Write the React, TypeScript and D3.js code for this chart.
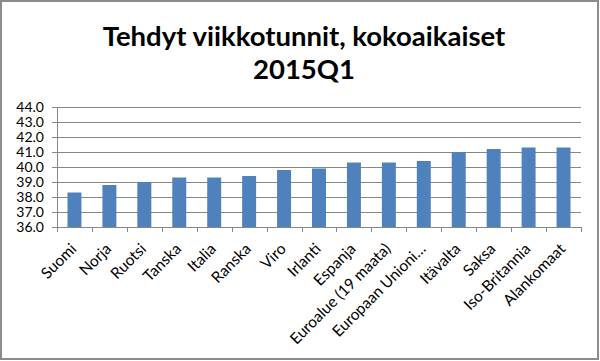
import React, { useEffect, useRef } from 'react'
import * as d3 from 'd3'

const countries = ['Suomi', 'Norja', 'Ruotsi', 'Tanska', 'Italia', 'Ranska', 'Viro', 'Irlanti', 'Espanja',
  'Euroalue (19 maata)', 'Europaan Unioni…', 'Itävalta', 'Saksa', 'Iso-Britannia', 'Alankomaat']
const hours = [38.3, 38.8, 39.0, 39.3, 39.3, 39.4, 39.8, 39.9, 40.3, 40.3, 40.4, 41.0, 41.2, 41.3, 41.3]
const yTicks = [36, 37, 38, 39, 40, 41, 42, 43, 44]
const titleLines = ['Tehdyt viikkotunnit, kokoaikaiset', '2015Q1']

const App = () => {
  const ref = useRef<SVGSVGElement>(null)

  useEffect(() => {
    const svg = d3.select(ref.current)
    svg.selectAll('*').remove()
    const font = 'Lato, "Open Sans", sans-serif'

    // frame
    svg.append('rect').attr('x', 1).attr('y', 1).attr('width', 597).attr('height', 358)
      .attr('fill', 'white').attr('stroke', '#8c8c8c').attr('stroke-width', 2)

    const margin = { top: 107, left: 57, right: 19, bottom: 134 }
    const w = 600 - margin.left - margin.right
    const h = 361 - margin.top - margin.bottom
    const g = svg.append('g').attr('transform', `translate(${margin.left},${margin.top})`)

    const x = d3.scaleBand().domain(countries).range([0, w]).paddingInner(0.6).paddingOuter(0.3)
    const xTick = d3.scaleBand().domain(countries).range([0, w])
    const y = d3.scaleLinear().domain([36, 44]).range([h, 0])

    // gridlines
    g.selectAll('.grid').data(yTicks).join('line').attr('class', 'grid')
      .attr('x1', 0).attr('x2', w)
      .attr('y1', d => Math.round(y(d)) + 0.5).attr('y2', d => Math.round(y(d)) + 0.5)
      .attr('stroke', '#878787').attr('stroke-width', 1)

    // bars
    g.selectAll('.bar').data(hours).join('rect').attr('class', 'bar')
      .attr('x', (d, i) => x(countries[i])!)
      .attr('y', d => y(d))
      .attr('width', x.bandwidth())
      .attr('height', d => h - y(d))
      .attr('fill', '#4f81bd')

    // y axis
    const yAxis = g.append('g').call(d3.axisLeft(y).tickValues(yTicks).tickFormat(d3.format('.1f')).tickSize(5).tickSizeOuter(0))
    yAxis.select('.domain').attr('stroke', '#878787')
    yAxis.selectAll('line').attr('stroke', '#878787')
    yAxis.selectAll('text').attr('font-family', font).attr('font-size', 14).attr('fill', '#000').attr('x', -13)

    // x axis
    const xAxis = g.append('g').attr('transform', `translate(0,${h})`)
    xAxis.append('line').attr('x1', 0).attr('x2', w).attr('y1', 0.5).attr('y2', 0.5).attr('stroke', '#878787')
    const bounds = countries.map(c => xTick(c)!).concat([w])
    xAxis.selectAll('.tick').data(bounds).join('line').attr('class', 'tick')
      .attr('x1', d => Math.round(d) + 0.5).attr('x2', d => Math.round(d) + 0.5)
      .attr('y1', 0).attr('y2', 5).attr('stroke', '#878787')
    xAxis.selectAll('.lab').data(countries).join('text').attr('class', 'lab')
      .attr('transform', d => `translate(${xTick(d)! + xTick.bandwidth() / 2 - 1},${19}) rotate(-45)`)
      .attr('text-anchor', 'end')
      .attr('dy', '0.35em')
      .attr('font-family', font).attr('font-size', 15.5).attr('fill', '#000')
      .text(d => d)

    // title
    svg.selectAll('.title').data(titleLines).join('text').attr('class', 'title')
      .attr('x', 304).attr('y', (d, i) => 46 + i * 33)
      .attr('text-anchor', 'middle')
      .attr('font-family', font).attr('font-weight', 'bold').attr('font-size', 27.5).attr('fill', '#000')
      .text(d => d)
  }, [])

  return (
    <svg ref={ref} width={600} height={361} style={{ position: 'absolute', left: 0, top: 0 }} />
  )
}

export default App
